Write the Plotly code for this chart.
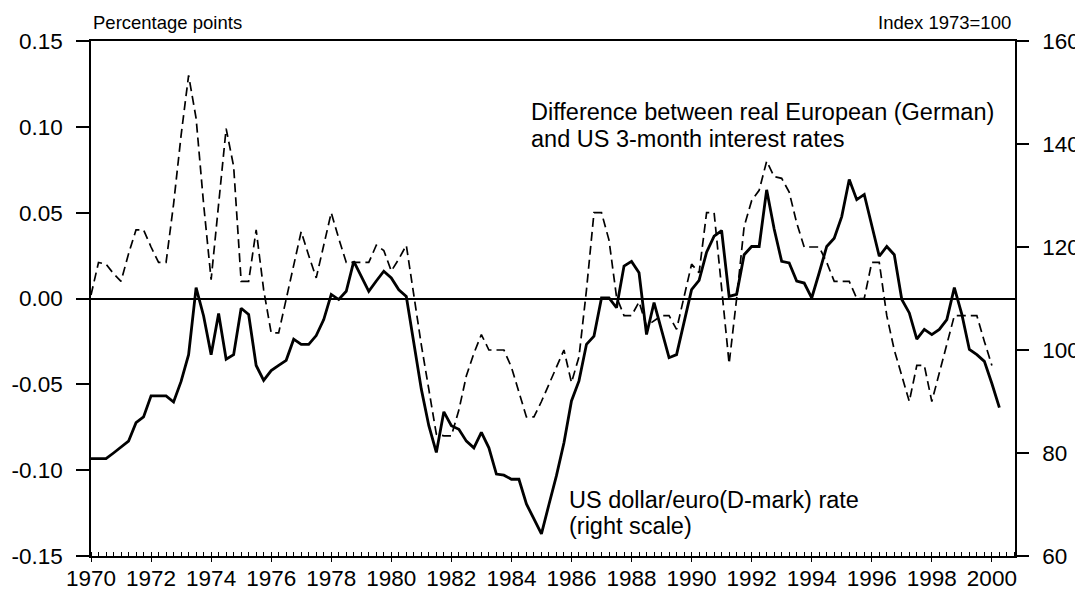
import plotly.graph_objects as go

# ---------------- data (quarterly) ----------------
start_year = 1970
# Difference between real European (German) and US 3-month interest rates (left scale)
rate_diff = [
    0.002, 0.021, 0.020, 0.0145,   # 1970
    0.010, 0.026, 0.040, 0.040,    # 1971
    0.030, 0.021, 0.021, 0.055,    # 1972
    0.095, 0.130, 0.105, 0.055,    # 1973
    0.011, 0.055, 0.099, 0.077,    # 1974
    0.010, 0.010, 0.040, 0.005,    # 1975
    -0.020, -0.020, 0.000, 0.020,  # 1976
    0.039, 0.025, 0.012, 0.031,    # 1977
    0.050, 0.035, 0.021, 0.021,    # 1978
    0.021, 0.021, 0.031, 0.028,    # 1979
    0.016, 0.023, 0.031, 0.001,    # 1980
    -0.027, -0.053, -0.079, -0.080,  # 1981
    -0.080, -0.065, -0.045, -0.032,  # 1982
    -0.021, -0.030, -0.030, -0.030,  # 1983
    -0.040, -0.055, -0.069, -0.069,  # 1984
    -0.060, -0.050, -0.040, -0.030,  # 1985
    -0.049, -0.034, 0.005, 0.050,    # 1986
    0.050, 0.034, 0.001, -0.010,     # 1987
    -0.010, -0.002, -0.016, -0.013,  # 1988
    -0.010, -0.010, -0.018, 0.001,   # 1989
    0.020, 0.015, 0.050, 0.050,      # 1990
    0.005, -0.038, 0.000, 0.042,     # 1991
    0.057, 0.063, 0.080, 0.071,      # 1992
    0.070, 0.062, 0.044, 0.030,      # 1993
    0.030, 0.030, 0.021, 0.010,      # 1994
    0.010, 0.010, 0.000, 0.000,      # 1995
    0.021, 0.021, -0.010, -0.030,    # 1996
    -0.045, -0.060, -0.039, -0.039,  # 1997
    -0.060, -0.043, -0.027, -0.010,  # 1998
    -0.010, -0.010, -0.010, -0.025,  # 1999
    -0.039,                          # 2000
]

# US dollar / euro (D-mark) rate, index 1973=100 (right scale)
usd_eur = [
    78.9, 78.9, 78.9, 80.0,      # 1970
    81.2, 82.3, 85.9, 87.0,      # 1971
    91.1, 91.1, 91.1, 89.9,      # 1972
    93.9, 99.1, 112.1, 106.6,    # 1973
    99.1, 107.1, 98.2, 99.1,     # 1974
    108.1, 106.9, 97.0, 94.1,    # 1975
    96.0, 97.0, 98.0, 102.1,     # 1976
    101.1, 101.1, 102.8, 105.9,  # 1977
    110.8, 109.8, 111.4, 117.2,  # 1978
    114.3, 111.4, 113.4, 115.3,  # 1979
    114.0, 111.7, 110.4, 101.4,  # 1980
    92.4, 85.3, 80.1, 88.0,      # 1981
    85.3, 84.6, 82.3, 81.0,      # 1982
    84.0, 81.0, 75.9, 75.7,      # 1983
    74.9, 74.9, 70.1, 67.2,      # 1984
    64.3, 70.0, 75.6, 82.0,      # 1985
    90.1, 94.0, 101.1, 102.7,    # 1986
    110.1, 110.1, 108.2, 116.3,  # 1987
    117.2, 115.0, 103.0, 109.2,  # 1988
    104.0, 98.5, 99.1, 105.4,    # 1989
    111.7, 113.5, 119.0, 122.1,  # 1990
    123.2, 110.4, 110.8, 118.5,  # 1991
    120.1, 120.1, 131.1, 123.5,  # 1992
    117.2, 116.9, 113.4, 113.0,  # 1993
    110.1, 115.0, 120.1, 121.7,  # 1994
    125.9, 133.1, 129.2, 130.2,  # 1995
    124.0, 118.2, 120.1, 118.5,  # 1996
    109.8, 107.2, 102.1, 104.0,  # 1997
    103.0, 104.0, 105.9, 112.1,  # 1998
    106.9, 100.1, 99.1, 97.8,    # 1999
    93.5, 88.8,                  # 2000
]

quarters_diff = [start_year + i / 4 for i in range(len(rate_diff))]
quarters_usd = [start_year + i / 4 for i in range(len(usd_eur))]

left_tickvals = [0.15, 0.10, 0.05, 0.00, -0.05, -0.10, -0.15]
left_ticktext = ["0.15", "0.10", "0.05", "0.00", "-0.05", "-0.10", "-0.15"]
right_tickvals = [60, 80, 100, 120, 140, 160]
year_ticks = list(range(1970, 2001, 2))

FONT = "Liberation Sans, Arial, Helvetica, sans-serif"

fig = go.Figure()
fig.add_trace(go.Scatter(
    x=quarters_diff, y=rate_diff, mode="lines", yaxis="y",
    line=dict(color="black", width=1.7, dash="9px,5px"),
    showlegend=False, hoverinfo="skip"))
fig.add_trace(go.Scatter(
    x=quarters_usd, y=usd_eur, mode="lines", yaxis="y2",
    line=dict(color="black", width=2.8),
    showlegend=False, hoverinfo="skip"))

# the page body adds an 8px offset, so the figure is 8px smaller than the window
fig.update_layout(
    width=1075, height=596,
    margin=dict(l=83, r=68, t=33, b=48, autoexpand=False),
    paper_bgcolor="white", plot_bgcolor="white",
    font=dict(family=FONT, color="black", size=22),
    xaxis=dict(
        range=[1970, 2000.77], tickmode="array", tickvals=year_ticks,
        ticktext=[str(y) for y in year_ticks],
        ticks="outside", ticklen=4, tickwidth=1.3, tickcolor="black",
        showline=True, linecolor="black", linewidth=1.5, mirror=True,
        showgrid=False, zeroline=False, automargin=False,
        tickfont=dict(family=FONT, size=22.5, color="black"),
        ticklabelstandoff=-3,
        minor=dict(tickmode="linear", tick0=1970, dtick=0.25, ticks="inside",
                   ticklen=4, tickwidth=1, tickcolor="black", showgrid=False),
    ),
    yaxis=dict(
        range=[-0.15, 0.15], tickmode="array", tickvals=left_tickvals,
        ticktext=left_ticktext,
        ticks="outside", ticklen=13, tickwidth=1.5, tickcolor="black",
        showline=True, linecolor="black", linewidth=1.5,
        showgrid=False, zeroline=True, zerolinecolor="black", zerolinewidth=1.6,
        tickfont=dict(family=FONT, size=22.5, color="black"),
        ticklabelstandoff=9, automargin=False,
    ),
    yaxis2=dict(
        range=[60, 160], tickmode="array", tickvals=right_tickvals,
        overlaying="y", side="right",
        ticks="outside", ticklen=12, tickwidth=1.5, tickcolor="black",
        showline=True, linecolor="black", linewidth=1.5,
        showgrid=False, zeroline=False,
        tickfont=dict(family=FONT, size=22.5, color="black"),
        ticklabelstandoff=9, automargin=False,
    ),
    annotations=[
        dict(text="Percentage points", xref="paper", yref="paper", x=0.0, y=1.035,
             xanchor="left", yanchor="middle", showarrow=False,
             font=dict(family=FONT, size=18.5, color="black")),
        dict(text="Index 1973=100", xref="paper", yref="paper", x=0.998, y=1.035,
             xanchor="right", yanchor="middle", showarrow=False,
             font=dict(family=FONT, size=18.5, color="black")),
        dict(text="Difference between real European (German)", xref="x", yref="y",
             x=1984.6, y=0.1085, xanchor="left", yanchor="middle", showarrow=False,
             font=dict(family=FONT, size=23.5, color="black")),
        dict(text="and US 3-month interest rates", xref="x", yref="y",
             x=1984.6, y=0.0930, xanchor="left", yanchor="middle", showarrow=False,
             font=dict(family=FONT, size=23.5, color="black")),
        dict(text="US dollar/euro(D-mark) rate", xref="x", yref="y",
             x=1985.84, y=-0.1174, xanchor="left", yanchor="middle", showarrow=False,
             font=dict(family=FONT, size=23.5, color="black")),
        dict(text="(right scale)", xref="x", yref="y",
             x=1985.84, y=-0.1326, xanchor="left", yanchor="middle", showarrow=False,
             font=dict(family=FONT, size=23.5, color="black")),
    ],
)

fig.write_html("out.html")
